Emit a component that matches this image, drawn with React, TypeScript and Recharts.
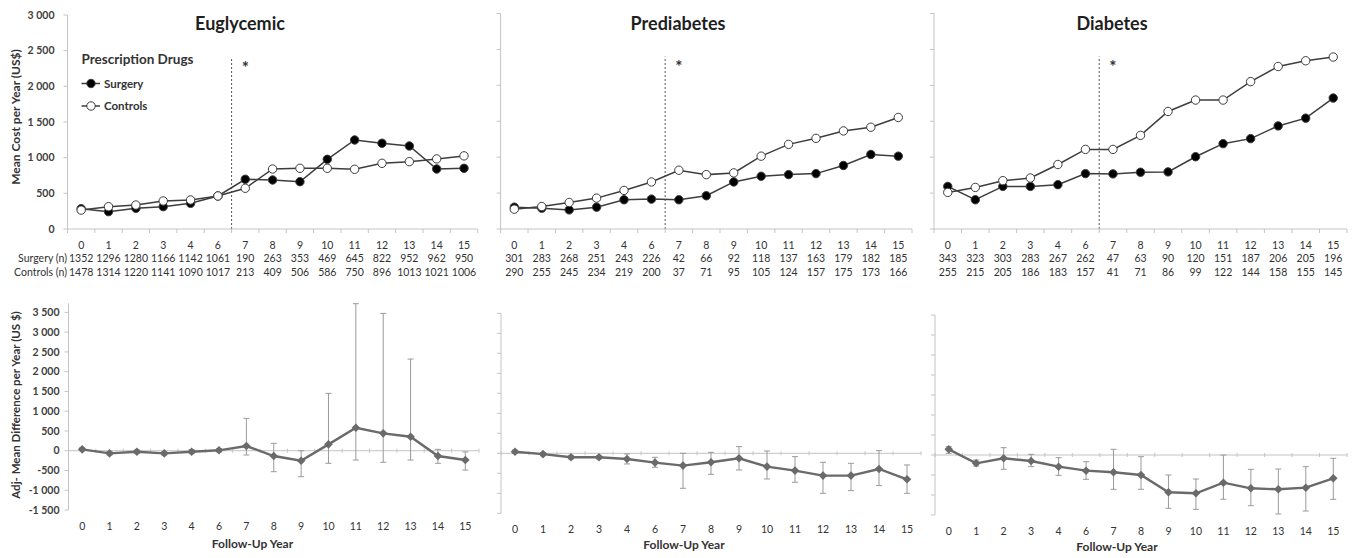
import React from 'react';
import { LineChart, Line, XAxis, YAxis, ReferenceLine, ReferenceDot, ErrorBar, Legend } from 'recharts';

const W = 1353;
const H = 558;
const FONT = 'Lato, "Open Sans", sans-serif';
const AXIS = '#c4c4c4';
const DARK = '#3d3d3d';
const TEXT = '#333333';

// ---------- data ----------
const years = [0, 1, 2, 3, 4, 6, 7, 8, 9, 10, 11, 12, 13, 14, 15];
const panelTitles = ['Euglycemic', 'Prediabetes', 'Diabetes'];
const seriesNames = ['Surgery', 'Controls'];
const legendTitle = 'Prescription Drugs';
const rowLabels = ['Surgery (n)', 'Controls (n)'];
const topYLabel = 'Mean Cost per Year (US$)';
const bottomYLabel = 'Adj- Mean Difference per Year (US $)';
const xLabel = 'Follow-Up Year';
const surgeryStartYear = 7;

const topTicks = [0, 500, 1000, 1500, 2000, 2500, 3000];
const bottomTicks = [-1500, -1000, -500, 0, 500, 1000, 1500, 2000, 2500, 3000, 3500];

// Mean cost per year (US$)
const eugSurgery = [285, 243, 290, 313, 360, 463, 697, 687, 663, 977, 1248, 1202, 1164, 841, 851];
const eugControls = [265, 313, 336, 393, 407, 463, 571, 841, 851, 851, 837, 921, 944, 982, 1025];
const preSurgery = [304, 290, 266, 304, 407, 416, 407, 463, 655, 734, 757, 771, 884, 1038, 1014];
const preControls = [276, 313, 369, 430, 537, 655, 818, 757, 781, 1014, 1178, 1262, 1365, 1417, 1553];
const diaSurgery = [593, 407, 593, 593, 617, 771, 767, 790, 795, 1006, 1188, 1258, 1435, 1543, 1823];
const diaControls = [509, 579, 673, 710, 898, 1108, 1108, 1304, 1636, 1795, 1795, 2052, 2262, 2342, 2394];

// Sample sizes
const eugNSurgery = [1352, 1296, 1280, 1166, 1142, 1061, 190, 263, 353, 469, 645, 822, 952, 962, 950];
const eugNControls = [1478, 1314, 1220, 1141, 1090, 1017, 213, 409, 506, 586, 750, 896, 1013, 1021, 1006];
const preNSurgery = [301, 283, 268, 251, 243, 226, 42, 66, 92, 118, 137, 163, 179, 182, 185];
const preNControls = [290, 255, 245, 234, 219, 200, 37, 71, 95, 105, 124, 157, 175, 173, 166];
const diaNSurgery = [343, 323, 303, 283, 267, 262, 47, 63, 90, 120, 151, 187, 206, 205, 196];
const diaNControls = [255, 215, 205, 186, 183, 157, 41, 71, 86, 99, 122, 144, 158, 155, 145];

// Adjusted mean difference with CI bounds
const eugDiff = [35, -66, -25, -66, -25, 10, 119, -134, -253, 161, 582, 440, 354, -134, -235];
const eugLow = [0, -110, -70, -110, -75, -30, -109, -531, -657, -319, -235, -293, -235, -319, -490];
const eugHigh = [70, -20, 20, -20, 30, 50, 819, 187, 0, 1451, 3720, 3475, 2319, 35, -30];
const preDiff = [40, -20, -100, -100, -142, -233, -308, -225, -125, -333, -433, -558, -558, -392, -650];
const preLow = [0, -60, -140, -140, -267, -350, -875, -525, -417, -642, -725, -1000, -933, -808, -1000];
const preHigh = [80, 20, -60, -60, -17, -100, 0, 25, 167, 58, -83, -225, -250, 67, -292];
const diaDiff = [142, -208, -83, -150, -292, -392, -433, -500, -933, -958, -692, -833, -858, -817, -583];
const diaLow = [42, -275, -358, -292, -508, -608, -858, -858, -1333, -1358, -1108, -1267, -1475, -1400, -1108];
const diaHigh = [208, -125, 183, 17, -67, -167, 142, -42, -500, -600, 0, -358, -350, -292, -83];

// ---------- helpers ----------
const fmt = (v: number) => {
  const s = Math.abs(v).toString().replace(/\B(?=(\d{3})+(?!\d))/g, ' ');
  return (v < 0 ? '-' : '') + s;
};
const idx = years.map((_, i) => i);
const xDomain = [-0.5, years.length - 0.5];
const halfTicks: number[] = [];
for (let k = 0; k <= years.length * 2; k++) halfTicks.push(k / 2 - 0.5);
const splitX = years.indexOf(surgeryStartYear) - 0.5;

type TopCfg = {
  title: string; surgery: number[]; controls: number[]; nS: number[]; nC: number[];
  rect: [number, number, number, number]; labels: boolean; legend: boolean;
};
type BotCfg = {
  diff: number[]; low: number[]; high: number[]; domain: [number, number];
  rect: [number, number, number, number]; labels: boolean;
};

const topPanels: TopCfg[] = [
  { title: panelTitles[0], surgery: eugSurgery, controls: eugControls, nS: eugNSurgery, nC: eugNControls, rect: [67.5, 477.7, 15, 229], labels: true, legend: true },
  { title: panelTitles[1], surgery: preSurgery, controls: preControls, nS: preNSurgery, nC: preNControls, rect: [500.6, 912, 13.5, 229], labels: false, legend: false },
  { title: panelTitles[2], surgery: diaSurgery, controls: diaControls, nS: diaNSurgery, nC: diaNControls, rect: [934, 1347, 13.5, 229], labels: false, legend: false },
];
const bottomPanels: BotCfg[] = [
  { diff: eugDiff, low: eugLow, high: eugHigh, domain: [-1500, 3730], rect: [68.5, 479, 303.3, 510], labels: true },
  { diff: preDiff, low: preLow, high: preHigh, domain: [-1500, 3500], rect: [501, 921, 313.3, 513.3], labels: false },
  { diff: diaDiff, low: diaLow, high: diaHigh, domain: [-1500, 3500], rect: [935, 1347, 315, 515], labels: false },
];

const layer: React.CSSProperties = { position: 'absolute', left: 0, top: 0 };

const LegendBox = () => (
  <svg width={200} height={120} style={{ overflow: 'visible' }}>
    <text x={81.5} y={64} fontFamily={FONT} fontWeight={700} fontSize={13.5} fill={TEXT}>{legendTitle}</text>
    {seriesNames.map((name, k) => {
      const cy = 83.5 + k * 22.5;
      return (
        <g key={name}>
          <line x1={81.5} x2={100} y1={cy} y2={cy} stroke={DARK} strokeWidth={1.5} />
          <circle cx={91} cy={cy} r={4.2} fill={k === 0 ? '#000' : '#fff'} stroke={DARK} strokeWidth={1} />
          <text x={104} y={cy + 4} fontFamily={FONT} fontWeight={700} fontSize={11.5} fill={TEXT}>{name}</text>
        </g>
      );
    })}
  </svg>
);

const makeYTick = (show: boolean) => (props: any) => {
  const { x, y, payload } = props;
  if (!show) return <g />;
  return (
    <text x={x} y={y} dy="0.36em" textAnchor="end" fontFamily={FONT} fontSize={10.5} fontWeight={700} fill="#404040">
      {fmt(payload.value)}
    </text>
  );
};

function TopPanel({ cfg }: { cfg: TopCfg }) {
  const [l, r, t, b] = cfg.rect;
  const data = years.map((y, i) => ({ i, year: y, surgery: cfg.surgery[i], controls: cfg.controls[i], nS: cfg.nS[i], nC: cfg.nC[i] }));
  const Tick = (props: any) => {
    const { x, y, payload } = props;
    const v = payload.value;
    if (!Number.isInteger(v)) {
      return <line x1={x} x2={x} y1={y} y2={y + 4} stroke={AXIS} strokeWidth={1} />;
    }
    const d = data[v];
    const common = { x, textAnchor: 'middle' as const, fontFamily: FONT, fontSize: 10.5, fill: TEXT };
    return (
      <g>
        <text {...common} y={y + 19.5}>{d.year}</text>
        <text {...common} y={y + 33}>{d.nS}</text>
        <text {...common} y={y + 47}>{d.nC}</text>
      </g>
    );
  };
  const YTick = makeYTick(cfg.labels);
  return (
    <div style={layer}>
      <LineChart width={W} height={H} data={data} margin={{ left: l - 1, right: W - r, top: t, bottom: H - b - 1 }}>
        <XAxis type="number" dataKey="i" domain={xDomain} ticks={halfTicks} interval={0} height={1}
          axisLine={{ stroke: AXIS }} tickLine={false} tickSize={0} tickMargin={0} tick={<Tick />} />
        <YAxis type="number" domain={[0, 3000]} ticks={topTicks} interval={0} width={1}
          axisLine={{ stroke: AXIS }} tickLine={{ stroke: AXIS }} tickSize={4} tickMargin={9}
          tick={<YTick />} />
        <ReferenceLine segment={[{ x: splitX, y: 0 }, { x: splitX, y: 2400 }]} stroke="#555" strokeWidth={1} strokeDasharray="2 2" />
        <ReferenceDot x={splitX + 0.5} y={2260} r={0} fill="none" stroke="none"
          label={{ value: '*', position: 'center', fontFamily: FONT, fontSize: 17, fontWeight: 700, fill: TEXT }} />
        <Line type="linear" dataKey="surgery" name={seriesNames[0]} stroke={DARK} strokeWidth={1.5}
          dot={{ r: 4.2, fill: '#000', stroke: DARK, strokeWidth: 1 }} isAnimationActive={false} />
        <Line type="linear" dataKey="controls" name={seriesNames[1]} stroke={DARK} strokeWidth={1.5}
          dot={{ r: 4.2, fill: '#fff', stroke: DARK, strokeWidth: 1 }} isAnimationActive={false} />
        {cfg.legend && (
          <Legend layout="vertical" align="center" verticalAlign="middle"
            wrapperStyle={{ left: 0, top: 0, width: 200, height: 120 }} content={() => <LegendBox />} />
        )}
      </LineChart>
    </div>
  );
}

const Diamond = (props: any) => {
  const { cx, cy, index } = props;
  if (cx == null || cy == null) return <g key={index} />;
  const s = 4.3;
  return <polygon key={index} points={`${cx},${cy - s} ${cx + s},${cy} ${cx},${cy + s} ${cx - s},${cy}`} fill="#6a6a6a" />;
};

function BottomPanel({ cfg }: { cfg: BotCfg }) {
  const [l, r, t, b] = cfg.rect;
  const data = years.map((y, i) => ({ i, year: y, diff: cfg.diff[i], err: [cfg.diff[i] - cfg.low[i], cfg.high[i] - cfg.diff[i]] }));
  const Tick = (props: any) => {
    const { x, y, payload } = props;
    return (
      <text x={x} y={y + 19.5} textAnchor="middle" fontFamily={FONT} fontSize={10.5} fill={TEXT}>
        {data[payload.value].year}
      </text>
    );
  };
  const ZeroLine = (props: any) => {
    const { x1, x2, y1 } = props;
    if (x1 == null) return <g />;
    const n = years.length;
    const marks = [];
    for (let k = 0; k <= n; k++) {
      const x = x1 + (k * (x2 - x1)) / n;
      marks.push(<line key={k} x1={x} x2={x} y1={y1 - 2} y2={y1 + 2} stroke={AXIS} strokeWidth={1} />);
    }
    return (
      <g>
        <line x1={x1} x2={x2} y1={y1} y2={y1} stroke={AXIS} strokeWidth={1} />
        {marks}
      </g>
    );
  };
  const YTick = makeYTick(cfg.labels);
  return (
    <div style={layer}>
      <LineChart width={W} height={H} data={data} margin={{ left: l - 1, right: W - r, top: t, bottom: H - b - 1 }}>
        <XAxis type="number" dataKey="i" domain={xDomain} ticks={idx} interval={0} height={1}
          axisLine={false} tickLine={false} tickSize={0} tickMargin={0} tick={<Tick />} />
        <YAxis type="number" domain={cfg.domain} ticks={bottomTicks} interval={0} width={1}
          axisLine={{ stroke: AXIS }} tickLine={{ stroke: AXIS }} tickSize={4} tickMargin={5}
          tick={<YTick />} />
        <ReferenceLine y={0} stroke={AXIS} shape={ZeroLine} />
        <Line type="linear" dataKey="diff" stroke="#6a6a6a" strokeWidth={2.4} dot={Diamond} isAnimationActive={false}>
          <ErrorBar dataKey="err" direction="y" width={3} stroke="#9a9a9a" strokeWidth={1} isAnimationActive={false} />
        </Line>
      </LineChart>
    </div>
  );
}

const titleX = [240, 678, 1112];
const xLabelPos = [[252.5, 548], [684, 549], [1117, 550.5]];

export default function App() {
  return (
    <div style={{ position: 'absolute', left: 0, top: 0, width: W, height: H, background: '#fff', overflow: 'hidden' }}>
      {topPanels.map((p, k) => <TopPanel key={'t' + k} cfg={p} />)}
      {bottomPanels.map((p, k) => <BottomPanel key={'b' + k} cfg={p} />)}
      <svg width={W} height={H} style={{ ...layer, pointerEvents: 'none' }}>
        {panelTitles.map((tt, k) => (
          <text key={tt} x={titleX[k]} y={30} textAnchor="middle" fontFamily={FONT} fontWeight={700} fontSize={18} fill="#1f1f1f">{tt}</text>
        ))}
        {rowLabels.map((rl, k) => (
          <text key={rl} x={67} y={262 + k * 14} textAnchor="end" fontFamily={FONT} fontSize={10.5} fill={TEXT}>{rl}</text>
        ))}
        <text x={20} y={117} transform="rotate(-90 20 117)" textAnchor="middle" fontFamily={FONT} fontWeight={700} fontSize={12} fill={TEXT}>{topYLabel}</text>
        <text x={20} y={405} transform="rotate(-90 20 405)" textAnchor="middle" fontFamily={FONT} fontWeight={700} fontSize={11.5} fill={TEXT}>{bottomYLabel}</text>
        {xLabelPos.map(([x, y], k) => (
          <text key={k} x={x} y={y} textAnchor="middle" fontFamily={FONT} fontWeight={700} fontSize={12} fill={TEXT}>{xLabel}</text>
        ))}
      </svg>
    </div>
  );
}
